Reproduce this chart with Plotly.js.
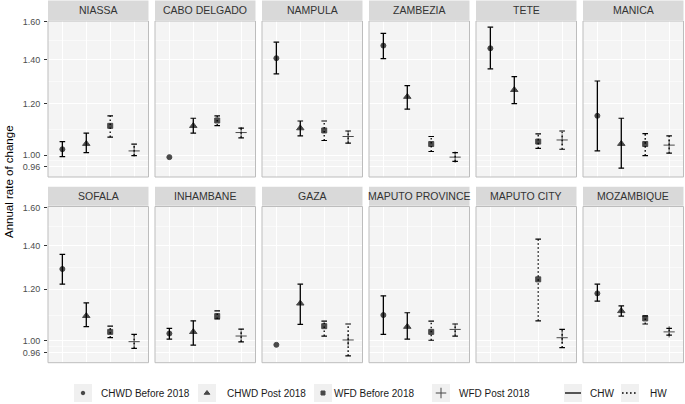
<!DOCTYPE html>
<html>
<head>
<meta charset="utf-8">
<script src="https://cdn.plot.ly/plotly-3.0.1.min.js"></script>
<style>html,body{margin:0;padding:0;background:#fff;}#chart{width:685px;height:404px;}</style>
</head>
<body>
<div id="chart"></div>
<script>
// ---------- DATA ----------
const provinces = ['NIASSA','CABO DELGADO','NAMPULA','ZAMBEZIA','TETE','MANICA',
                   'SOFALA','INHAMBANE','GAZA','MAPUTO PROVINCE','MAPUTO CITY','MOZAMBIQUE'];
const groups = ['CHWD Before 2018','CHWD Post 2018','WFD Before 2018','WFD Post 2018'];
const groupWorker = ['CHW','CHW','HW','HW'];

const chwdBeforeEst = [1.021, 0.993, 1.408, 1.472, 1.458, 1.149, 1.288, 1.026, 0.986, 1.095, null, 1.182];
const chwdBeforeLo  = [0.995, null,  1.332, 1.406, 1.356, 1.015, 1.221, 1.006, null,  1.023, null, 1.150];
const chwdBeforeHi  = [1.049, null,  1.490, 1.537, 1.571, 1.299, 1.356, 1.045, null,  1.172, null, 1.221];

const chwdPostEst = [1.041, 1.109, 1.100, 1.229, 1.259, 1.041, 1.092, 1.032, 1.141, 1.051, null, 1.111];
const chwdPostLo  = [1.009, 1.081, 1.070, 1.176, 1.199, 0.955, 1.051, 0.985, 1.060, 1.006, null, 1.091];
const chwdPostHi  = [1.081, 1.139, 1.128, 1.278, 1.319, 1.139, 1.143, 1.073, 1.221, 1.104, null, 1.131];

const wfdBeforeEst = [1.109, 1.130, 1.091, 1.040, 1.049, 1.040, 1.032, 1.091, 1.053, 1.032, 1.242, 1.082];
const wfdBeforeLo  = [1.066, 1.110, 1.053, 1.013, 1.024, 0.998, 1.011, 1.080, 1.017, 1.002, 1.073, 1.061];
const wfdBeforeHi  = [1.149, 1.149, 1.128, 1.068, 1.078, 1.079, 1.053, 1.111, 1.072, 1.072, 1.431, 1.092];

const wfdPostEst = [1.015, 1.083, 1.068, 0.993, 1.055, 1.036, 0.997, 1.017, 1.003, 1.041, 1.011, 1.032];
const wfdPostLo  = [0.998, 1.063, 1.043, 0.978, 1.021, 1.007, 0.974, 0.996, 0.948, 1.017, 0.976, 1.020];
const wfdPostHi  = [1.040, 1.100, 1.089, 1.009, 1.089, 1.070, 1.023, 1.042, 1.061, 1.061, 1.041, 1.045];

const yTickVals = [0.96, 1.00, 1.20, 1.40, 1.60];
const yTickText = ['0.96', '1.00', '1.20', '1.40', '1.60'];
const yMinorVals = [0.98, 1.095, 1.296, 1.497];
const refLine = 1;
const yTitle = 'Annual rate of change';
const workerLabels = ['CHW', 'HW'];

// ---------- LAYOUT HELPERS ----------
const W = 685, H = 404;
const est = [chwdBeforeEst, chwdPostEst, wfdBeforeEst, wfdPostEst];
const lo  = [chwdBeforeLo, chwdPostLo, wfdBeforeLo, wfdPostLo];
const hi  = [chwdBeforeHi, chwdPostHi, wfdBeforeHi, wfdPostHi];
const symbols = ['circle', 'triangle-up', 'square', 'cross-thin'];
const sizes = [5, 6.5, 5, 8];
const legSizes = [3.5, 5, 4, 7.5];

const colLeft = [48, 155, 262, 369, 476, 583];
const panelW = 100.5;
const rowTop = [21, 206.5], rowBot = [177, 362.7];
const stripTop = [0.5, 186.7], stripBot = [20, 205.7];
const FONT = 'Liberation Sans, Arial, Helvetica, sans-serif';

const layout = {
  width: W, height: H,
  margin: {l: 0, r: 0, t: 0, b: 0},
  paper_bgcolor: '#FFFFFF',
  plot_bgcolor: 'rgba(0,0,0,0)',
  showlegend: false,
  font: {family: FONT, color: '#333333'},
  shapes: [], annotations: []
};
const traces = [];

provinces.forEach((prov, p) => {
  const r = Math.floor(p / 6), c = p % 6;
  const s = p === 0 ? '' : String(p + 1);
  layout['xaxis' + s] = {
    domain: [colLeft[c] / W, (colLeft[c] + panelW) / W],
    anchor: 'y' + s, type: 'category', categoryorder: 'array', categoryarray: groups,
    range: [-0.6, 3.6], showticklabels: false, ticks: '',
    showgrid: true, gridcolor: '#FFFFFF', gridwidth: 1,
    zeroline: false, showline: false, fixedrange: true
  };
  layout['yaxis' + s] = {
    domain: [1 - rowBot[r] / H, 1 - rowTop[r] / H],
    anchor: 'x' + s, type: 'log', range: [-0.0335, 0.2056],
    tickmode: 'array', tickvals: yTickVals, ticktext: yTickText,
    showticklabels: c === 0, ticks: c === 0 ? 'outside' : '',
    ticklen: 3, tickwidth: 1, tickcolor: '#333333', ticklabelstandoff: 2,
    tickfont: {size: 9, color: '#4D4D4D', family: FONT},
    showgrid: true, gridcolor: '#FFFFFF', gridwidth: 1,
    minor: {tickmode: 'array', tickvals: yMinorVals, showgrid: true, gridcolor: '#FFFFFF', gridwidth: 0.5, ticks: ''},
    zeroline: false, showline: false, fixedrange: true
  };

  // panel background
  layout.shapes.push({type: 'rect', xref: 'x' + s + ' domain', yref: 'y' + s + ' domain',
    x0: 0, x1: 1, y0: 0, y1: 1, fillcolor: '#F4F4F4', line: {width: 0}, layer: 'below'});
  // reference line
  layout.shapes.push({type: 'line', xref: 'x' + s + ' domain', yref: 'y' + s,
    x0: 0, x1: 1, y0: Math.log10(refLine), y1: Math.log10(refLine),
    line: {color: '#222222', width: 1.1}, layer: 'above'});
  // panel border
  layout.shapes.push({type: 'rect', xref: 'x' + s + ' domain', yref: 'y' + s + ' domain',
    x0: 0, x1: 1, y0: 0, y1: 1, line: {color: '#BDBDBD', width: 1}, layer: 'above'});
  // strip
  layout.shapes.push({type: 'rect', xref: 'paper', yref: 'paper',
    x0: colLeft[c] / W, x1: (colLeft[c] + panelW) / W,
    y0: 1 - stripBot[r] / H, y1: 1 - stripTop[r] / H,
    fillcolor: '#D9D9D9', line: {width: 0}, layer: 'above'});
  layout.annotations.push({xref: 'paper', yref: 'paper',
    x: (colLeft[c] + panelW / 2) / W, y: 1 - (stripTop[r] + stripBot[r]) / 2 / H,
    xanchor: 'center', yanchor: 'middle', showarrow: false, text: prov,
    font: {size: 10.5, color: '#333333', family: FONT}});

  // error bars by worker type
  workerLabels.forEach(wk => {
    const xs = [], ys = [];
    groups.forEach((g, gi) => {
      if (groupWorker[gi] !== wk) return;
      if (lo[gi][p] == null || hi[gi][p] == null) return;
      xs.push(g, g, null); ys.push(lo[gi][p], hi[gi][p], null);
    });
    if (!xs.length) return;
    traces.push({type: 'scatter', mode: 'lines+markers', xaxis: 'x' + s, yaxis: 'y' + s,
      x: xs, y: ys, connectgaps: false, hoverinfo: 'skip',
      line: {color: '#000000', width: 1.3, dash: wk === 'HW' ? '1.6px,2.4px' : 'solid'},
      marker: {symbol: 'line-ew', size: 4, color: '#000000', line: {width: 1.2, color: '#000000'}}});
  });

  // points
  const px = [], py = [], ps = [], pz = [];
  groups.forEach((g, gi) => {
    if (est[gi][p] == null) return;
    px.push(g); py.push(est[gi][p]); ps.push(symbols[gi]); pz.push(sizes[gi]);
  });
  traces.push({type: 'scatter', mode: 'markers', xaxis: 'x' + s, yaxis: 'y' + s,
    x: px, y: py,
    marker: {symbol: ps, size: pz, color: '#000000', line: {width: 1, color: '#000000'}}});
});

// y axis title
layout.annotations.push({xref: 'paper', yref: 'paper', x: 9 / W, y: 1 - 182 / H,
  xanchor: 'center', yanchor: 'middle', textangle: -90, showarrow: false,
  text: yTitle, font: {size: 11.5, color: '#000000', family: FONT}});

// ---------- LEGEND (drawn manually in a strip axis) ----------
const L = '13';
layout['xaxis' + L] = {domain: [0, 1], range: [0, W], visible: false, fixedrange: true, anchor: 'y' + L};
layout['yaxis' + L] = {domain: [0, 24 / H], range: [H, H - 24], visible: false, fixedrange: true, anchor: 'x' + L};
const legY = 393;
const keyX = [83, 207, 323, 441];
const keyTextX = [99, 225, 332, 457];
keyX.forEach((kx, i) => {
  layout.shapes.push({type: 'rect', xref: 'x' + L, yref: 'y' + L, x0: kx - 9, x1: kx + 9, y0: legY - 9, y1: legY + 9,
    fillcolor: '#F0F0F0', line: {width: 0}, layer: 'below'});
  layout.annotations.push({xref: 'x' + L, yref: 'y' + L, x: keyTextX[i], y: legY + 0.5, xanchor: 'left', yanchor: 'middle',
    showarrow: false, text: groups[i], font: {size: 10, color: '#1A1A1A', family: FONT}});
});
traces.push({type: 'scatter', mode: 'markers', xaxis: 'x' + L, yaxis: 'y' + L,
  x: keyX, y: keyX.map(() => legY), hoverinfo: 'skip',
  marker: {symbol: symbols, size: legSizes, color: '#000000', line: {width: 1, color: '#000000'}}});

const lineKeyX = [573, 630];
const lineTextX = [588, 648];
workerLabels.forEach((wk, i) => {
  const kx = lineKeyX[i];
  layout.shapes.push({type: 'rect', xref: 'x' + L, yref: 'y' + L, x0: kx - 9, x1: kx + 9, y0: legY - 9, y1: legY + 9,
    fillcolor: '#F0F0F0', line: {width: 0}, layer: 'below'});
  layout.shapes.push({type: 'line', xref: 'x' + L, yref: 'y' + L, x0: kx - 8, x1: kx + 8, y0: legY, y1: legY,
    line: {color: '#000000', width: 1.3, dash: i === 1 ? '1.6px,2.4px' : 'solid'}, layer: 'above'});
  layout.annotations.push({xref: 'x' + L, yref: 'y' + L, x: lineTextX[i], y: legY + 0.5, xanchor: 'left', yanchor: 'middle',
    showarrow: false, text: wk, font: {size: 10, color: '#1A1A1A', family: FONT}});
});

Plotly.newPlot('chart', traces, layout, {staticPlot: true, displayModeBar: false});
</script>
</body>
</html>
